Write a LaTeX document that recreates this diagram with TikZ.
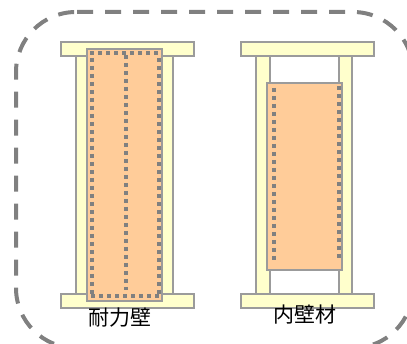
\documentclass[tikz,border=0pt]{standalone}
\usepackage{fontspec}
\usepackage{pgf,tikz}
\newfontfamily\cjk{Noto Sans CJK JP}

\begin{document}
\begin{tikzpicture}[x=1pt,y=-1pt]
\definecolor{legno}{HTML}{FFFFCC}
\definecolor{pannello}{HTML}{FFCC99}
\tikzstyle{bordo} = [draw={rgb,255:red,155;green,155;blue,155}, line width=1.7pt]
\tikzstyle{trave} = [bordo, fill=legno]
\tikzstyle{tavola} = [bordo, fill=pannello]
\tikzstyle{chiodi} = [draw={rgb,255:red,128;green,128;blue,128}, line width=3.8pt, dash pattern=on 3.8pt off 4.2pt]
\tikzstyle{cornice} = [draw={rgb,255:red,128;green,128;blue,128}, line width=4pt, dash pattern=on 16pt off 12pt, rounded corners=60pt]
\tikzstyle{scritta} = [font=\cjk\fontsize{21pt}{21pt}\selectfont]
\useasboundingbox (0,0) rectangle (407,344);
\draw[cornice] (77,12) -- (413,12) -- (413,348) -- (16,348) -- (16,12) -- (77,12);
% left wall
\draw[trave] (76,50) rectangle (89,298);
\draw[trave] (161,50) rectangle (173,298);
\draw[trave] (61,42) rectangle (194,56);
\draw[trave] (61,294) rectangle (194,308);
\draw[tavola] (87,49) rectangle (162,301);
\draw[chiodi] (90,53) -- (158,53);
\draw[chiodi] (91,296) -- (159,296);
\draw[chiodi] (92,58) -- (92,294);
\draw[chiodi] (159,58) -- (159,294);
\draw[chiodi] (125.7,55) -- (125.7,290);
% right wall
\draw[trave] (256,50) rectangle (270,298);
\draw[trave] (339,50) rectangle (352,298);
\draw[trave] (241,42) rectangle (374,56);
\draw[trave] (241,294) rectangle (374,308);
\draw[tavola] (267,83) rectangle (342,270);
\draw[chiodi] (274,88) -- (274,260);
\draw[chiodi] (339,86) -- (339,258);
\node[scritta] (lab1) at (120,317.5) {耐力壁};
\node[scritta] (lab2) at (305,315) {内壁材};
\end{tikzpicture}
\end{document}
